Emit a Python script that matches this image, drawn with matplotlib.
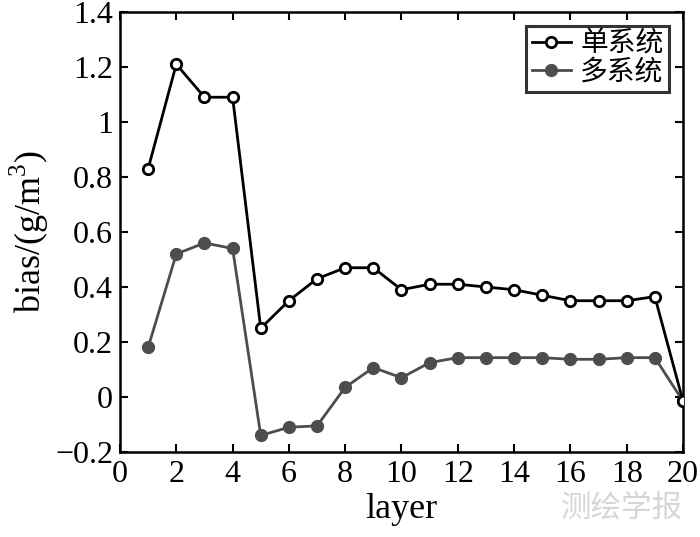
import matplotlib
matplotlib.use("Agg")
import matplotlib.pyplot as plt

plt.rcParams['font.family'] = ['Liberation Serif', 'Noto Sans CJK SC']
plt.rcParams['mathtext.fontset'] = 'custom'
plt.rcParams['mathtext.rm'] = 'Liberation Serif'

layers = list(range(1, 21))
single_sys = [0.83, 1.21, 1.09, 1.09, 0.25, 0.35, 0.43, 0.47, 0.47, 0.39,
              0.41, 0.41, 0.40, 0.39, 0.37, 0.35, 0.35, 0.35, 0.365, -0.015]
multi_sys = [0.18, 0.52, 0.56, 0.54, -0.14, -0.11, -0.105, 0.035, 0.107, 0.07,
             0.125, 0.143, 0.143, 0.143, 0.143, 0.137, 0.137, 0.143, 0.143, -0.015]
labels = ['单系统', '多系统']
xticks = list(range(0, 21, 2))
yticks = [-0.2, 0, 0.2, 0.4, 0.6, 0.8, 1, 1.2, 1.4]
yticklabels = ['\u22120.2', '0', '0.2', '0.4', '0.6', '0.8', '1', '1.2', '1.4']

fig = plt.figure(figsize=(7.0, 5.37), dpi=100)
ax = fig.add_axes([0.1714, 0.1583, 0.8043, 0.8194])

ax.plot(layers, multi_sys, '-o', color='#4d4d4d', lw=2.0, ms=8.5,
        mfc='#4d4d4d', mec='#4d4d4d', label=labels[1], zorder=2)
ax.plot(layers, single_sys, '-o', color='black', lw=2.0, ms=7.5,
        mfc='white', mec='black', mew=2.0, label=labels[0], zorder=3)

ax.set_xlim(0, 20)
ax.set_ylim(-0.2, 1.4)
ax.set_xticks(xticks)
ax.set_xticklabels([str(t) for t in xticks])
ax.set_yticks(yticks)
ax.set_yticklabels(yticklabels)
ax.tick_params(direction='in', length=6, width=1.5, top=True, right=True,
               labelsize=23)
ax.tick_params(axis='x', pad=6)
ax.tick_params(axis='y', pad=5)
for s in ax.spines.values():
    s.set_linewidth(1.8)

ax.set_xlabel('layer', fontsize=26, labelpad=3)
ax.set_ylabel('bias/(g/m$^3$)', fontsize=26, labelpad=3)

h, l = ax.get_legend_handles_labels()
leg = ax.legend(h[::-1], l[::-1], loc='upper right', fontsize=20,
                frameon=True, fancybox=False, edgecolor='black',
                handlelength=1.4, handletextpad=0.35, borderpad=0.2,
                labelspacing=0.1, borderaxespad=0.5)
leg.get_frame().set_linewidth(2.2)

fig.text(0.975, 0.025, '测绘学报', fontsize=22, color='#d6d6d6',
         ha='right', va='bottom', family=['Noto Sans CJK SC'])

fig.savefig('out.png', dpi=100)
